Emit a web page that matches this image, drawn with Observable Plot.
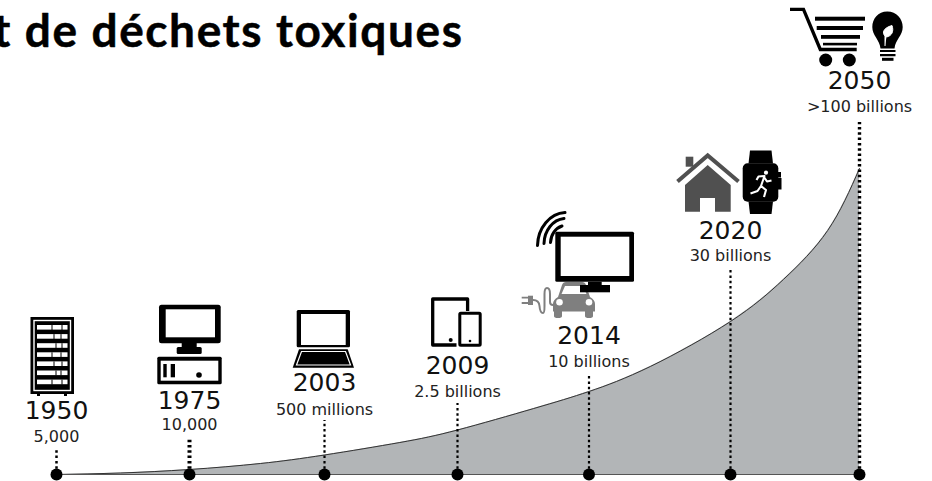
<!DOCTYPE html>
<html><head><meta charset="utf-8">
<script src="https://cdn.jsdelivr.net/npm/d3@7"></script>
<script src="https://cdn.jsdelivr.net/npm/@observablehq/plot@0.6"></script>
<style>html,body{margin:0;padding:0;background:#fff}svg{display:block}.title-mark text{letter-spacing:1.6px}</style>
</head><body><div id="chart"></div>
<script>
// Data
const titleText = "t de déchets toxiques";
const years = [1950, 1975, 2003, 2009, 2014, 2020, 2050];
const yearLabels = ["1950", "1975", "2003", "2009", "2014", "2020", "2050"];
const deviceCounts = ["5,000", "10,000", "500 millions", "2.5 billions", "10 billions", "30 billions", ">100 billions"];
const curveYears = [1950, 1962, 1975, 1989.7, 2003, 2006.4, 2009, 2011.9, 2014, 2016.6, 2020, 2032.3, 2042.6, 2050];
const curveValues = [0, 1.5, 5, 11, 19.5, 32, 44.5, 66, 83, 108, 153, 195, 244, 306];

// Layout (heights above the baseline in scale units; the y scale is one unit per pixel)
const xRange = [56, 189, 324, 457, 588.5, 730, 859];
const stemTops = [25, 36, 54, 71, 99, 206, 352];
const stemWidths = [2.5, 4, 2.2, 2.2, 2.2, 2.2, 3.4];
const yearHeights = [55.7, 66, 83.3, 101, 131, 236, 385.7];
const countHeights = [32.4, 44.7, 59.7, 78, 108, 213.7, 362.7];

const car = "#7f7f7f", house = "#505050";
const serverBars = [0,1,2,3,4,5,6].map(i => {
  const y = 325 + i * 9.1;
  return `<rect x="37" y="${y}" width="30.5" height="4.6" fill="#fff"/><path d="M${52 + (i%3)*2} ${y}v5M${62 - i%2} ${y}v5" stroke="#000" stroke-width="1"/>`;
}).join("");
// Icons are authored with an origin given per year, placed through the scales.
const icons = [
  [1950, `<rect x="30.5" y="317" width="43.5" height="77" fill="#000"/>
    <rect x="34" y="320.5" width="36.5" height="70" fill="none" stroke="#fff" stroke-width="1.4"/>
    ${serverBars}
    <rect x="37" y="394" width="3" height="2" fill="#000"/><rect x="64" y="394" width="3" height="2" fill="#000"/>`],
  [1975, `<rect x="159" y="304.7" width="61.7" height="38.6" rx="2.5" fill="#000"/>
    <rect x="165.7" y="309.3" width="49.3" height="28" fill="#fff"/>
    <rect x="181.7" y="343" width="15" height="5" fill="#000"/><rect x="176.7" y="347" width="25" height="7" rx="1.5" fill="#000"/>
    <rect x="157.3" y="356.7" width="64.4" height="27.6" rx="1.5" fill="#000"/>
    <rect x="160.7" y="360.7" width="57.6" height="20" fill="#fff"/>
    <rect x="163.3" y="364" width="3.4" height="13.3" fill="#000"/><rect x="170.7" y="364" width="4.3" height="13.3" fill="#000"/>
    <circle cx="199" cy="375" r="2.8" fill="#000"/>`],
  [2003, `<rect x="296.7" y="310" width="53.3" height="37.3" rx="1.5" fill="#000"/>
    <rect x="301" y="314" width="44.7" height="31" fill="#fff"/>
    <path d="M299 349.3H347.7L354 367.7H292.7Z" fill="#000"/>
    <path d="M301.5 351.5H345.5L350.5 365H296.5Z" fill="none" stroke="#fff" stroke-width="1.2"/>`],
  [2009, `<path d="M467.6 311V299H432.7V345H456.5" fill="none" stroke="#000" stroke-width="3.3" stroke-linejoin="round"/>
    <rect x="459.8" y="313.2" width="20.4" height="32" rx="1" fill="none" stroke="#000" stroke-width="3"/>
    <circle cx="450.7" cy="340" r="2" fill="#000"/><circle cx="470" cy="341" r="1.3" fill="#000"/>`],
  [2014, `<rect x="555.3" y="231.7" width="78.7" height="50" rx="1.5" fill="#000"/>
    <rect x="560.7" y="236.7" width="68.6" height="39.3" fill="#fff"/>
    <g fill="none" stroke="#000" stroke-width="3" stroke-linecap="round">
      <path d="M537.5 245.5A29 34 0 0 1 565 212.5"/><path d="M544 243.5A22 26 0 0 1 564 218.5"/><path d="M550.5 242.5A16 18 0 0 1 562 226"/>
    </g>
    <path d="M558 297L562 285Q563 282 566 282H582Q585 282 586 285L590 297Q595 300 595 304V311.5H593V316Q593 318 589 318Q585 318 585 316V311.5H562V316Q562 318 558 318Q554 318 554 316V311.5H553V304Q553 300 558 297Z" fill="${car}"/>
    <path d="M561.5 294L565 286H583L586.5 294Z" fill="#fff"/>
    <circle cx="559.5" cy="302.3" r="3.3" fill="#fff"/><circle cx="589" cy="302.3" r="3.3" fill="#fff"/>
    <path d="M533 300Q539 300 539.5 306Q540 313 543 313Q544.5 313 544.5 306V294Q544.5 288 547 288Q550 288 550 294V302Q550 305 553 305" fill="none" stroke="${car}" stroke-width="2"/>
    <path d="M528 295.7H533V305H528Z" fill="${car}"/><path d="M521.7 297.7H528M521.7 303H528" stroke="${car}" stroke-width="1.8"/>
    <rect x="588" y="281.7" width="13.7" height="4" fill="#000"/><rect x="580" y="285" width="30" height="7.3" fill="#000"/>`],
  [2020, `<rect x="685.7" y="156.7" width="7.6" height="10" fill="${house}"/>
    <path d="M677.5 181.5L707.7 155.5L738.5 181.5" fill="none" stroke="${house}" stroke-width="4"/>
    <path d="M685 185L707.7 165L730.7 185V211.7H715V198H700V211.7H685Z" fill="${house}"/>
    <path d="M748.5 163.5L750 150.5H771.5L773 163.5Z" fill="#000"/><path d="M748.5 201.5L750 214H771.5L773 201.5Z" fill="#000"/>
    <rect x="742.7" y="163.3" width="35.6" height="38.4" rx="5" fill="#000"/>
    <rect x="776" y="172" width="5" height="5.5" fill="#000"/><rect x="776" y="178" width="5.5" height="11.5" fill="#000"/>
    <circle cx="766" cy="172.7" r="2.1" fill="#fff"/>
    <path d="M756.5 180L758.5 176.5L764.5 176L761 186L766 190L764 197M761 186L757.5 191L750.5 193.5M764 177L767 181.5L771.5 180.5" fill="none" stroke="#fff" stroke-width="2.1" stroke-linejoin="round"/>`],
  [2050, `<path d="M790 9.3H803.5L820.3 49.5H856.7" fill="none" stroke="#000" stroke-width="3.3"/>
    <rect x="815" y="16.7" width="50" height="4" fill="#000"/><rect x="816.7" y="26" width="46.3" height="4" fill="#000"/>
    <rect x="821" y="35" width="39" height="3.8" fill="#000"/><rect x="823" y="42.8" width="34" height="2.6" fill="#000"/>
    <circle cx="825.7" cy="60" r="6.5" fill="#000"/><circle cx="849.3" cy="60" r="6.5" fill="#000"/>
    <path d="M887.3 11.5C878 11.5 872.3 19 872.3 27C872.3 36 879.5 39 880.5 48.5H894.5C895.5 39 902.7 36 902.7 27C902.7 19 896.5 11.5 887.3 11.5Z" fill="#000"/>
    <path d="M885 46V36C882 33 883 28 892 25.5C894 31 892 36 886.5 37" fill="#fff" stroke="#fff" stroke-width="1"/>
    <path d="M880 51H895.5M880 55.2H895.5" stroke="#000" stroke-width="2.2"/><path d="M882 59.3H893.5" stroke="#000" stroke-width="3"/>`]
];
const iconOrigins = xRange;

const rows = years.map((year, i) => ({
  year, label: yearLabels[i], count: deviceCounts[i],
  stemTop: stemTops[i], stemWidth: stemWidths[i], yearH: yearHeights[i], countH: countHeights[i]
}));
const curve = curveYears.map((year, i) => ({year, value: curveValues[i]}));
const font = "'DejaVu Sans', Verdana, sans-serif";

const iconMark = (index, {x, y}) => {
  const g = d3.create("svg:g");
  icons.forEach(([year, markup], i) => {
    g.append("g")
      .attr("transform", `translate(${x(year)},${y(0)}) translate(${-iconOrigins[i]},-474)`)
      .html(markup);
  });
  return g.node();
};

const plot = Plot.plot({
  width: 932, height: 481,
  margin: 0,
  style: {background: "#fff", overflow: "hidden"},
  x: {type: "linear", domain: years, range: xRange, axis: null},
  y: {type: "linear", domain: [0, 474], range: [474, 0], axis: null},
  marks: [
    Plot.areaY(curve, {x: "year", y: "value", fill: "#b2b5b7", curve: "natural"}),
    Plot.lineY(curve, {x: "year", y: "value", stroke: "#333", strokeWidth: 1, curve: "natural"}),
    Plot.ruleY([0], {x1: years[0], x2: years[years.length - 1], stroke: "#555", strokeWidth: 1.2}),
    ...rows.map(r => Plot.ruleX([r], {x: "year", y1: 0, y2: "stemTop", stroke: "#000", strokeWidth: r.stemWidth, strokeDasharray: "2.5,2.8"})),
    Plot.dot(rows, {x: "year", y: () => 0, r: 6, fill: "#000"}),
    Plot.text(rows, {x: "year", y: "yearH", text: "label", fontFamily: font, fontSize: 25, lineAnchor: "bottom", fill: "#111"}),
    Plot.text(rows, {x: "year", y: "countH", text: "count", fontFamily: font, fontSize: 16, lineAnchor: "bottom", fill: "#222"}),
    iconMark,
    Plot.text([titleText], {text: d => d, frameAnchor: "top-left", textAnchor: "end", lineAnchor: "bottom", dx: 463, dy: 46.7, fontFamily: "Lato, sans-serif", fontWeight: 700, fontSize: 46, fill: "#000", stroke: "#000", strokeWidth: 0.5, className: "title-mark"})
  ]
});
document.getElementById("chart").append(plot);
</script></body></html>
